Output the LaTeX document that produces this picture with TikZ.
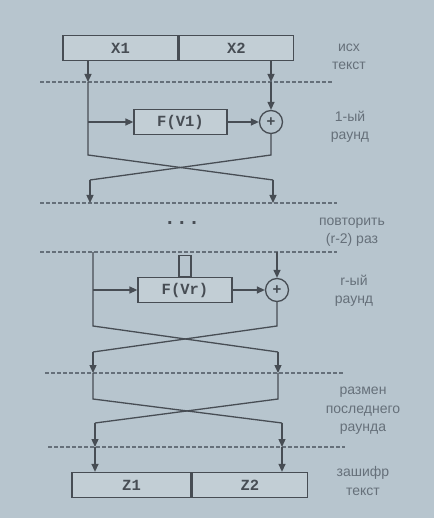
\documentclass[tikz,border=0pt]{standalone}
\usepackage{fontspec}
\setmainfont{Liberation Sans}
\newfontfamily\boxfont{Liberation Mono}
\usetikzlibrary{arrows.meta,positioning}
\definecolor{slide}{HTML}{B7C5CE}
\definecolor{ink}{HTML}{474D54}
\definecolor{note}{HTML}{66707A}
\tikzset{
  Block/.style={draw=ink,fill=slide!85!white,line width=1.3pt,minimum height=25pt,
    inner sep=0pt,text=ink,font=\boxfont\bfseries\fontsize{15.5}{15.5}\selectfont},
  Xor/.style={circle,draw=ink,line width=1.3pt,minimum size=23pt,inner sep=0pt,
    text=ink,font=\bfseries\fontsize{15}{15}\selectfont},
  Wire/.style={draw=ink,line width=1.3pt},
  Feed/.style={Wire,-{Triangle[length=8pt,width=7pt]}},
  Cut/.style={draw=note,line width=1.2pt,dash pattern=on 3.5pt off 2.5pt},
  Note/.style={text=note,align=center,font=\fontsize{14}{18.5}\selectfont}
}

\begin{document}
\begin{tikzpicture}[x=1pt,y=-1pt]
    \fill[slide] (0,0) rectangle (434,518);

    % plain text halves
    \node[Block,minimum width=115pt] (x1) at (120.5,48) {X1};
    \node[Block,minimum width=114pt,right=0pt of x1] (x2) {X2};

    % separators
    \draw[Cut] (40,82) -- (332,82);
    \draw[Cut] (40,203) -- (337,203);
    \draw[Cut] (40,252) -- (337,252);
    \draw[Cut] (45,373) -- (343,373);
    \draw[Cut] (48,447) -- (345,447);

    % round 1
    \node[Block,minimum width=93pt] (f1) at (180.5,122) {F(V1)};
    \node[Xor] (c1) at (271,122) {+};
    \coordinate (l1) at (88,82);   \coordinate (r1) at (271,82);
    \coordinate (l1b) at (88,155); \coordinate (r1b) at (271,155);
    \coordinate (l1c) at (90,180); \coordinate (r1c) at (273,180);
    \coordinate (l2) at (90,203);  \coordinate (r2) at (273,203);

    \draw[Feed] (x1.south -| l1) -- (l1);
    \draw[Feed] (x2.south -| r1) -- (r1);
    \draw[Feed] (r1) -- (c1.north);
    \draw[Feed] (f1.west -| l1) -- (f1.west);
    \draw[Feed] (f1.east) -- (c1.west);
    \draw[Wire] (l1) -- (l1b) -- (r1c);
    \draw[Feed] (r1c) -- (r2);
    \draw[Wire] (c1.south) -- (r1b) -- (l1c);
    \draw[Feed] (l1c) -- (l2);

    \node[text=ink,font=\bfseries\fontsize{20}{20}\selectfont] (dots) at (182,223) {.\,\,.\,\,.};

    % round r
    \node[Block,minimum width=94pt] (fr) at (185,290) {F(Vr)};
    \node[Wire,minimum width=12pt,minimum height=21pt,inner sep=0pt,anchor=south] (kr) at (fr.north) {};
    \node[Xor] (cr) at (277,290) {+};
    \coordinate (l3) at (93,252);  \coordinate (r3) at (277,252);
    \coordinate (l3b) at (93,326); \coordinate (r3b) at (277,326);
    \coordinate (l3c) at (93,352); \coordinate (r3c) at (278,352);
    \coordinate (l4) at (93,373);  \coordinate (r4) at (278,373);
    \coordinate (l4b) at (93,399); \coordinate (r4b) at (278,399);
    \coordinate (l4c) at (95,423); \coordinate (r4c) at (282,423);
    \coordinate (l5) at (95,447);  \coordinate (r5) at (282,447);

    \draw[Feed] (r3) -- (cr.north);
    \draw[Feed] (fr.west -| l3) -- (fr.west);
    \draw[Feed] (fr.east) -- (cr.west);
    \draw[Wire] (l3) -- (l3b) -- (r3c);
    \draw[Feed] (r3c) -- (r4);
    \draw[Wire] (cr.south) -- (r3b) -- (l3c);
    \draw[Feed] (l3c) -- (l4);

    % last swap
    \draw[Wire] (l4) -- (l4b) -- (r4c);
    \draw[Feed] (r4c) -- (r5);
    \draw[Wire] (r4) -- (r4b) -- (l4c);
    \draw[Feed] (l4c) -- (l5);

    % cipher text halves
    \node[Block,minimum width=119pt] (z1) at (131.5,485) {Z1};
    \node[Block,minimum width=115pt,right=0pt of z1] (z2) {Z2};
    \draw[Feed] (l5) -- (z1.north -| l5);
    \draw[Feed] (r5) -- (z2.north -| r5);

    % notes
    \node[Note] (t0) at (349,57) {исх\\текст};
    \node[Note] (t1) at (350,127) {1-ый\\раунд};
    \node[Note] (t2) at (352,232) {повторить\\(r-2) раз};
    \node[Note] (t3) at (354,291) {r-ый\\раунд};
    \node[Note] (t4) at (363,411) {размен\\последнего\\раунда};
    \node[Note] (t5) at (363,481) {зашифр\\текст};
\end{tikzpicture}
\end{document}
